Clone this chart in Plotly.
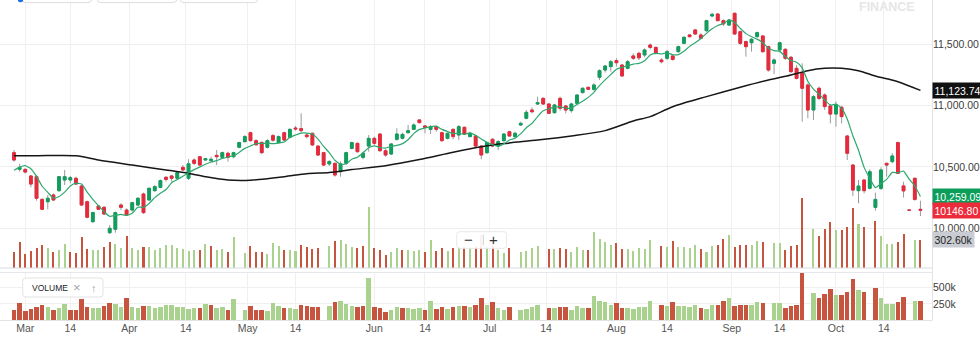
import bisect
import pandas as pd
import plotly.graph_objects as go

# ---------------------------------------------------------------- sessions --
nse_holidays = ["2018-03-02", "2018-03-29", "2018-03-30", "2018-05-01",
                "2018-08-15", "2018-08-22", "2018-09-13", "2018-09-20",
                "2018-10-02", "2018-10-18"]
stray_rows = ["2018-10-21"]          # flat row present in the feed
days = pd.bdate_range("2018-02-27", "2018-10-23")
days = days[~days.isin(pd.to_datetime(nse_holidays))]
days = days.union(pd.to_datetime(stray_rows))
dates = [d.strftime("%Y-%m-%d") for d in days]

# -------------------------------------------------------------- price data --
open_ = [
    10616, 10480, 10480, 10426, 10420, 10235, 10216, 10271, 10306, 10393,
    10393, 10407, 10344, 10216, 10053, 10181, 10170, 9963, 9991, 10189,
    10148, 10148, 10189, 10279, 10230, 10306, 10333, 10415, 10426, 10407,
    10496, 10407, 10556, 10583, 10556, 10551, 10594, 10578, 10611, 10583,
    10660, 10706, 10779, 10714, 10700, 10660, 10755, 10698, 10779, 10741,
    10817, 10812, 10760, 10774, 10670, 10616, 10524, 10529, 10461, 10529,
    10651, 10692, 10578, 10670, 10733, 10768, 10632, 10605, 10725, 10733,
    10779, 10806, 10883, 10834, 10806, 10828, 10779, 10733, 10806, 10760,
    10823, 10747, 10752, 10670, 10616, 10725, 10670, 10714, 10787, 10747,
    10842, 10896, 10964, 11013, 11059, 11013, 10942, 11059, 10997, 10959,
    11019, 11106, 11149, 11133, 11231, 11290, 11318, 11367, 11331, 11304,
    11405, 11426, 11413, 11494, 11475, 11372, 11386, 11405, 11440, 11508,
    11576, 11617, 11576, 11611, 11731, 11747, 11693, 11657, 11753, 11603,
    11522, 11513, 11562, 11568, 11481, 11345, 11454, 11459, 11394, 11304,
    11269, 11168, 10964, 11141, 11086, 10997, 10931, 10986, 10752, 10515,
    10306, 10393, 10325, 10170, 10325, 10529, 10543, 10698, 10345, 10147.5,
    10407, 10154]
high = [
    10638, 10524, 10488, 10434, 10434, 10244, 10271, 10284, 10426, 10475,
    10426, 10420, 10352, 10225, 10135, 10189, 10181, 10026, 10135, 10203,
    10162, 10216, 10252, 10290, 10333, 10352, 10398, 10426, 10434, 10461,
    10515, 10562, 10570, 10589, 10570, 10583, 10638, 10624, 10624, 10624,
    10706, 10760, 10787, 10725, 10706, 10725, 10768, 10757, 10787, 10815,
    10834, 10937, 10774, 10779, 10676, 10622, 10556, 10534, 10543, 10624,
    10706, 10700, 10624, 10760, 10747, 10774, 10643, 10692, 10815, 10779,
    10842, 10855, 10888, 10842, 10842, 10834, 10787, 10779, 10815, 10842,
    10828, 10787, 10760, 10679, 10706, 10733, 10719, 10774, 10795, 10787,
    10869, 10964, 10986, 11073, 11067, 11019, 11013, 11073, 11005, 11024,
    11092, 11149, 11155, 11182, 11296, 11331, 11372, 11386, 11337, 11372,
    11426, 11440, 11467, 11508, 11481, 11386, 11454, 11413, 11489, 11565,
    11584, 11625, 11590, 11700, 11758, 11752, 11704, 11706, 11758, 11611,
    11530, 11549, 11603, 11576, 11489, 11386, 11522, 11467, 11405, 11331,
    11345, 11182, 11086, 11155, 11100, 11013, 11032, 10997, 10760, 10524,
    10393, 10398, 10480, 10290, 10496, 10534, 10611, 10706, 10379, 10148,
    10412, 10224]
low = [
    10543, 10461, 10447, 10333, 10225, 10148, 10154, 10225, 10298, 10352,
    10366, 10352, 10181, 10080, 10045, 10148, 10108, 9953, 9963, 10148,
    10099, 10135, 10181, 10116, 10225, 10298, 10325, 10380, 10380, 10398,
    10469, 10393, 10515, 10507, 10551, 10535, 10515, 10570, 10543, 10570,
    10651, 10698, 10706, 10670, 10605, 10651, 10706, 10692, 10714, 10733,
    10796, 10779, 10733, 10670, 10589, 10507, 10507, 10420, 10420, 10515,
    10643, 10616, 10562, 10624, 10679, 10624, 10583, 10597, 10714, 10725,
    10774, 10801, 10855, 10774, 10768, 10787, 10706, 10725, 10725, 10719,
    10760, 10741, 10665, 10562, 10605, 10660, 10638, 10706, 10747, 10733,
    10834, 10888, 10937, 11005, 11005, 10932, 10937, 10959, 10937, 10942,
    11013, 11100, 11127, 11122, 11209, 11269, 11277, 11318, 11236, 11296,
    11372, 11372, 11394, 11459, 11418, 11345, 11372, 11367, 11432, 11500,
    11557, 11576, 11541, 11603, 11720, 11687, 11649, 11649, 11576, 11494,
    11399, 11440, 11557, 11432, 11277, 11258, 11440, 11372, 11263, 11214,
    10869, 10896, 10882, 11045, 10964, 10855, 10828, 10855, 10556, 10263,
    10203, 10284, 10317, 10143, 10311, 10420, 10529, 10442, 10250, 10145,
    10224, 10099]
close = [
    10556, 10496, 10458, 10360, 10244, 10154, 10244, 10230, 10420, 10420,
    10412, 10360, 10189, 10089, 10127, 10154, 10116, 9999, 10127, 10170,
    10108, 10208, 10244, 10127, 10325, 10339, 10388, 10398, 10407, 10453,
    10475, 10525, 10529, 10515, 10567, 10562, 10583, 10616, 10578, 10616,
    10698, 10747, 10714, 10681, 10616, 10714, 10718, 10747, 10719, 10806,
    10810, 10796, 10747, 10679, 10597, 10515, 10543, 10434, 10524, 10616,
    10698, 10624, 10611, 10733, 10692, 10632, 10597, 10687, 10768, 10765,
    10795, 10842, 10861, 10823, 10826, 10806, 10714, 10774, 10747, 10828,
    10768, 10774, 10670, 10597, 10698, 10670, 10706, 10768, 10752, 10774,
    10855, 10945, 10950, 11024, 11013, 10937, 11005, 10978, 10964, 11013,
    11086, 11141, 11133, 11168, 11285, 11323, 11358, 11350, 11242, 11358,
    11386, 11390, 11454, 11475, 11426, 11358, 11440, 11377, 11481, 11557,
    11562, 11584, 11549, 11693, 11744, 11693, 11666, 11698, 11584, 11508,
    11481, 11541, 11595, 11440, 11290, 11372, 11513, 11386, 11277, 11222,
    11141, 10964, 11073, 11059, 10992, 10931, 11005, 10910, 10611, 10311,
    10344, 10306, 10461, 10235, 10475, 10515, 10589, 10447, 10304, 10146.8,
    10235, 10146.8]

# volume in thousands (None = no volume reported)
volume_k = [
    169, 276, 153, 179, 215, 245, 215, 169, 194, 256,
    169, 164, 332, 205, 189, 189, 220, 276, 256, 215,
    343, 215, 194, 225, 225, 194, 215, 245, 245, 215,
    205, 179, 189, 189, 256, 235, 189, 205, 169, 332,
    None, 164, 230, 169, 169, 153, 271, 230, 194, 194,
    179, 245, 225, 205, 215, None, 230, 291, 297, 256,
    220, 215, 230, 649, 215, 189, 143, 169, 215, 194,
    194, 179, 194, 169, 297, 179, 215, 179, 215, 220,
    225, 215, 235, 348, 235, 291, 189, 164, 215, None,
    169, 179, 215, 235, None, 199, 199, 215, 205, 169,
    220, 189, 189, 378, 307, 281, 245, 271, 199, 199,
    179, 210, 205, 300, None, 235, 225, 291, 220, 220,
    215, 245, 199, 174, 235, 245, 307, 353, 220, 245,
    240, 240, 291, 276, None, 266, 266, 189, 230, 245,
    745, None, 419, 343, 414, 486, 399, 399, 440, 634,
    470, 440, None, 501, 343, 256, 256, 281, 363, None,
    297, 302.6]

# 5-session moving average of the close
sma5 = [
    10472, 10498, 10510, 10485, 10423, 10342, 10292, 10246, 10258, 10294,
    10345, 10368, 10360, 10294, 10235, 10184, 10135, 10097, 10105, 10113,
    10104, 10122, 10171, 10171, 10202, 10249, 10285, 10315, 10371, 10397,
    10424, 10452, 10478, 10499, 10522, 10540, 10551, 10569, 10581, 10591,
    10618, 10651, 10671, 10691, 10691, 10694, 10689, 10695, 10703, 10741,
    10760, 10776, 10776, 10768, 10726, 10667, 10616, 10554, 10523, 10526,
    10563, 10579, 10615, 10656, 10672, 10658, 10653, 10668, 10675, 10690,
    10722, 10771, 10806, 10817, 10829, 10832, 10806, 10789, 10773, 10774,
    10766, 10778, 10757, 10727, 10701, 10682, 10668, 10688, 10719, 10734,
    10771, 10819, 10855, 10910, 10957, 10974, 10986, 10991, 10979, 10979,
    11009, 11036, 11067, 11108, 11163, 11210, 11253, 11297, 11312, 11326,
    11339, 11345, 11366, 11413, 11426, 11421, 11431, 11415, 11416, 11443,
    11483, 11512, 11547, 11589, 11626, 11653, 11669, 11699, 11677, 11630,
    11587, 11562, 11542, 11513, 11469, 11448, 11442, 11400, 11368, 11354,
    11308, 11198, 11135, 11092, 11046, 11004, 11012, 10979, 10890, 10754,
    10636, 10496, 10407, 10331, 10364, 10398, 10455, 10452, 10466, 10400,
    10344, 10259.09]

# 50-session moving average, sampled along the curve
sma50 = [None] * len(dates)
sma50_samples = {
    0: 10591, 4: 10591, 11: 10591, 15: 10556, 21: 10515, 27: 10475, 31: 10447,
    34: 10420, 38: 10393, 42: 10391, 48: 10420, 52: 10445, 56: 10455,
    60: 10478, 66: 10510, 72: 10560, 78: 10620, 83: 10665, 87: 10690,
    93: 10719, 99: 10752, 105: 10796, 110: 10875, 113: 10910, 117: 10991,
    123: 11073, 129: 11149, 134: 11209, 138: 11250, 141: 11285, 144: 11304,
    147: 11304, 150: 11285, 153: 11242, 157: 11195, 161: 11123.74}
for k, v in sma50_samples.items():
    sma50[k] = v

tick_dates = ["2018-03-01", "2018-03-14", "2018-04-01", "2018-04-14",
              "2018-05-01", "2018-05-14", "2018-06-01", "2018-06-14",
              "2018-07-01", "2018-07-14", "2018-08-01", "2018-08-14",
              "2018-09-01", "2018-09-14", "2018-10-01", "2018-10-14"]
tick_labels = ["Mar", "14", "Apr", "14", "May", "14", "Jun", "14",
               "Jul", "14", "Aug", "14", "Sep", "14", "Oct", "14"]

# ---------------------------------------------------------------- styling --
W, H = 980, 345
PLOT_R = 932.0            # right edge of the plotting area (px)
MAIN_BOTTOM = 268.0
SUB_TOP, SUB_BOTTOM = 272.5, 320.5
SLOT = 5.63               # px per session
FIRST = 14.0              # px centre of the first session

UP, DOWN = "#0f9f5c", "#e8293b"
WICK = "#9a9a9a"
VOL_UP, VOL_DOWN = "#a8d28e", "#c7543f"
FONT = "Liberation Sans, Arial, sans-serif"


def px(x):
    return x / W


def py(y):
    return 1 - y / H


# tick positions: on the session itself, or half-way before the next one
tick_pos = []
for d in tick_dates:
    i = bisect.bisect_left(dates, d)
    tick_pos.append(i if i < len(dates) and dates[i] == d else i - 0.5)

vol_colors = []
for i, v in enumerate(volume_k):
    up = close[i] >= (close[i - 1] if i else open_[i])
    vol_colors.append(VOL_UP if up else VOL_DOWN)

body_hi = [max(o, c) for o, c in zip(open_, close)]
body_lo = [min(o, c) for o, c in zip(open_, close)]

fig = go.Figure()

# volume overlay at the foot of the price panel
fig.add_trace(go.Bar(x=dates, y=volume_k, xaxis="x", yaxis="y",
                     marker=dict(color=vol_colors, line_width=0),
                     width=0.36, hoverinfo="skip", showlegend=False))
# wicks
fig.add_trace(go.Candlestick(
    x=dates, open=open_, high=high, low=low, close=close,
    xaxis="x", yaxis="y2", showlegend=False, hoverinfo="skip",
    increasing=dict(line=dict(color=WICK, width=1), fillcolor=WICK),
    decreasing=dict(line=dict(color=WICK, width=1), fillcolor=WICK)))
# bodies
fig.add_trace(go.Candlestick(
    x=dates, open=open_, high=body_hi, low=body_lo, close=close,
    xaxis="x", yaxis="y2", showlegend=False, hoverinfo="skip",
    increasing=dict(line=dict(color=UP, width=1), fillcolor=UP),
    decreasing=dict(line=dict(color=DOWN, width=1), fillcolor=DOWN)))
# moving averages
fig.add_trace(go.Scatter(x=dates, y=sma50, xaxis="x", yaxis="y2",
                         mode="lines", connectgaps=True,
                         line=dict(color="#161616", width=1.5,
                                   shape="spline", smoothing=0.8),
                         hoverinfo="skip", showlegend=False))
fig.add_trace(go.Scatter(x=dates, y=sma5, xaxis="x", yaxis="y2",
                         mode="lines",
                         line=dict(color="#2fa86f", width=1.2,
                                   shape="spline", smoothing=0.5),
                         hoverinfo="skip", showlegend=False))
# volume sub-panel
fig.add_trace(go.Bar(x=dates, y=volume_k, xaxis="x2", yaxis="y3",
                     marker=dict(color=vol_colors, line_width=0),
                     width=0.8, hoverinfo="skip", showlegend=False))

x0 = -FIRST / SLOT
x_range = [x0, x0 + PLOT_R / SLOT]
dom_x = [0, PLOT_R / W]
y_price = [11500 - (MAIN_BOTTOM - 44.3) * 8.157, 11500 + 44.3 * 8.157]

common_x = dict(type="category", categoryorder="array", categoryarray=dates,
                range=x_range, domain=dom_x, tickmode="array",
                tickvals=tick_pos, showgrid=True, gridcolor="#f0f0f0",
                gridwidth=1, zeroline=False, showline=False, ticks="",
                fixedrange=True)

fig.update_layout(
    width=W, height=H, margin=dict(l=0, r=0, t=0, b=0),
    paper_bgcolor="white", plot_bgcolor="white",
    font=dict(family=FONT, size=10.5, color="#3c3c3c"),
    showlegend=False, bargap=0, boxmode="overlay",
    xaxis=dict(common_x, anchor="y", showticklabels=False,
               rangeslider=dict(visible=False)),
    xaxis2=dict(common_x, anchor="y3", matches="x", ticktext=tick_labels,
                showticklabels=True, tickfont=dict(size=10.5, color="#555")),
    yaxis=dict(domain=[py(MAIN_BOTTOM), 1], range=[0, 2850], visible=False,
               fixedrange=True),
    yaxis2=dict(overlaying="y", anchor="x", side="right", range=y_price,
                tickmode="array", tickvals=[10000, 10500, 11000, 11500],
                tickformat=",.2f", showgrid=True, gridcolor="#eeeeee",
                zeroline=False, ticks="", showline=False,
                tickfont=dict(size=10.5, color="#3c3c3c"), fixedrange=True),
    yaxis3=dict(domain=[py(SUB_BOTTOM), py(SUB_TOP)], anchor="x2",
                side="right", range=[0, 725], tickmode="array",
                tickvals=[250, 500], ticktext=["250k", "500k"],
                showgrid=True, gridcolor="#f0f0f0", zeroline=False,
                ticks="", showline=False,
                tickfont=dict(size=10.5, color="#3c3c3c"), fixedrange=True),
)


def rrect(x_a, y_a, x_b, y_b, r):
    """Rounded rectangle path in paper coordinates from pixel corners."""
    pts = [
        f"M{px(x_a + r)},{py(y_a)}", f"L{px(x_b - r)},{py(y_a)}",
        f"Q{px(x_b)},{py(y_a)} {px(x_b)},{py(y_a + r)}",
        f"L{px(x_b)},{py(y_b - r)}",
        f"Q{px(x_b)},{py(y_b)} {px(x_b - r)},{py(y_b)}",
        f"L{px(x_a + r)},{py(y_b)}",
        f"Q{px(x_a)},{py(y_b)} {px(x_a)},{py(y_b - r)}",
        f"L{px(x_a)},{py(y_a + r)}",
        f"Q{px(x_a)},{py(y_a)} {px(x_a + r)},{py(y_a)}", "Z"]
    return " ".join(pts)


def hline(y, color, width=1, x_a=0, x_b=PLOT_R):
    return dict(type="line", xref="paper", yref="paper", x0=px(x_a),
                x1=px(x_b), y0=py(y), y1=py(y),
                line=dict(color=color, width=width), layer="above")


shapes = [
    hline(MAIN_BOTTOM, "#d5dce4", 1.2),
    hline(SUB_TOP, "#e4e8ed", 1),
    hline(SUB_BOTTOM, "#e2e2e2", 1),
    dict(type="line", xref="paper", yref="paper", x0=px(PLOT_R + 0.5),
         x1=px(PLOT_R + 0.5), y0=py(0), y1=py(SUB_BOTTOM),
         line=dict(color="#e4e4e4", width=1)),
    # toolbar buttons peeking in at the top edge
    dict(type="path", xref="paper", yref="paper",
         path=rrect(22, -20, 92, 2.6, 4), fillcolor="white",
         line=dict(color="#dddddd", width=1)),
    dict(type="path", xref="paper", yref="paper",
         path=rrect(97, -20, 177, 2.6, 4), fillcolor="white",
         line=dict(color="#dddddd", width=1)),
    dict(type="path", xref="paper", yref="paper",
         path=rrect(180, -20, 258, 2.6, 4), fillcolor="white",
         line=dict(color="#dddddd", width=1)),
    dict(type="path", xref="paper", yref="paper",
         path=rrect(18, -6, 23, 2.2, 2), fillcolor="#1a6fe6",
         line=dict(width=0)),
    # VOLUME study tag
    dict(type="path", xref="paper", yref="paper",
         path=rrect(22.7, 278, 103, 297, 3), fillcolor="white",
         line=dict(color="#e3e3e3", width=1), layer="above"),
    # zoom control
    dict(type="path", xref="paper", yref="paper",
         path=rrect(456.7, 231.7, 506.7, 248.3, 3),
         fillcolor="rgba(255,255,255,0.92)",
         line=dict(color="#e8e8e8", width=1), layer="above"),
    dict(type="line", xref="paper", yref="paper", x0=px(483.3), x1=px(483.3),
         y0=py(234.5), y1=py(245.5), line=dict(color="#cfcfcf", width=1),
         layer="above"),
]


def tag(text, y, yref, bg, fg="white"):
    return dict(text=text, xref="paper", x=px(PLOT_R - 0.5), xanchor="left",
                yref=yref, y=y, yanchor="middle", showarrow=False,
                bgcolor=bg, borderpad=1.5, align="left",
                font=dict(family=FONT, size=10.5, color=fg))


def label(text, x, y, size, color, xanchor="center"):
    return dict(text=text, xref="paper", yref="paper", x=px(x), y=py(y),
                xanchor=xanchor, yanchor="middle", showarrow=False,
                font=dict(family=FONT, size=size, color=color))


annotations = [
    tag(f"{sma50[-1]:,.2f}", sma50[-1], "y2", "#111111"),
    tag(f"{sma5[-1]:,.2f}", sma5[-1], "y2", "#0b9e5a"),
    tag(f"{close[-1]:.2f}", close[-1], "y2", "#ec2b3b"),
    tag(f"{volume_k[-1]:.2f}k", volume_k[-1], "y", "#c9ccd2", "#222222"),
    label("VOLUME", 29.5, 287.5, 8.5, "#222222", "left"),
    label("×", 77, 287.5, 13, "#a6a6a6"),
    label("↑", 94.3, 287.5, 11, "#a6a6a6"),
    label("−", 468.3, 239.5, 15, "#333333"),
    label("+", 493.3, 239.5, 15, "#333333"),
    label("<b>FINANCE</b>", 886.5, 7.2, 12.5, "#e6e6e6"),
]

fig.update_layout(shapes=shapes, annotations=annotations)
fig.write_html("out.html")
